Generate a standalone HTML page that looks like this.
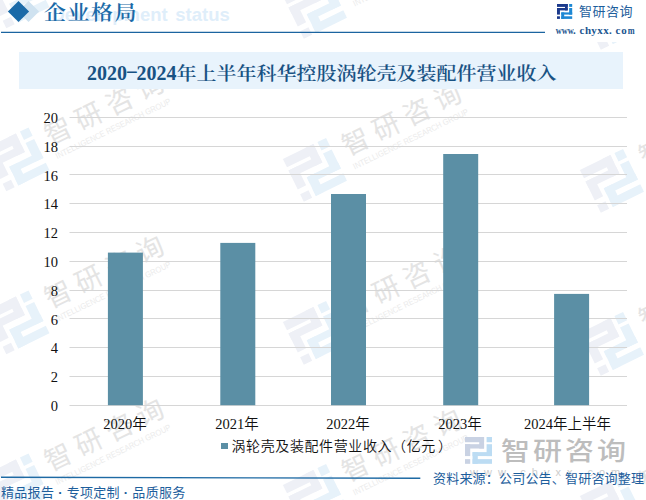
<!DOCTYPE html>
<html><head><meta charset="utf-8">
<style>
*{margin:0;padding:0;box-sizing:border-box}
html,body{width:646px;height:500px;overflow:hidden;background:#fff}
body{position:relative;font-family:"Liberation Sans","Noto Sans CJK SC",sans-serif;text-spacing-trim:space-all}
.a{position:absolute;white-space:nowrap}
svg.a{overflow:visible}
.dia{position:absolute;width:15px;height:15px;transform:rotate(45deg)}
.yl{position:absolute;left:20px;width:38px;text-align:right;font:14.5px "Liberation Serif","Noto Sans CJK SC",serif;color:#111;line-height:14px}
.xl{position:absolute;width:112px;text-align:center;font:350 14.5px "Liberation Serif","Noto Sans CJK SC",serif;color:#111;line-height:14px}
.m span{display:inline-block;width:6px;text-align:center}
.m span.w{transform:scaleX(0.75)}
.dash{display:inline-block;width:9.5px;text-align:center;font-weight:400;transform:translateY(-3px) scaleX(1.9)}
.p{display:inline-block;width:14.6px;text-align:left}
</style></head><body>

<svg class="a" style="left:0;top:0" width="646" height="500" viewBox="0 0 646 500">
<g transform="translate(17.5 -3.5) rotate(-26)"><g transform="translate(-24 -24) scale(3.2)"><g fill="#eef0f6"><rect x="0" y="0" width="10.6" height="2.9"/><rect x="7.9" y="0" width="2.7" height="6.4"/><rect x="0" y="4" width="10.6" height="2.4"/><rect x="0" y="4" width="2.9" height="6.6"/><rect x="0" y="12.3" width="2.9" height="2.6"/></g><g fill="#e7f2fa"><rect x="12" y="0" width="3" height="2.9"/><rect x="12" y="4" width="3" height="6.6"/><rect x="4.2" y="8.4" width="10.8" height="2.2"/><rect x="4.2" y="8.4" width="2.9" height="6.5"/><rect x="4.2" y="12.3" width="10.8" height="2.6"/></g></g><text x="35.5" y="2" font-size="27" font-weight="400" fill="#e4e4e4" letter-spacing="7" font-family="Liberation Sans, Noto Sans CJK SC, sans-serif">智研咨询</text><text x="36" y="17" font-size="8.5" fill="#ebebeb" textLength="127" lengthAdjust="spacingAndGlyphs" font-family="Liberation Sans, sans-serif">INTELLIGENCE RESEARCH GROUP</text></g>
<g transform="translate(17.5 159.5) rotate(-26)"><g transform="translate(-24 -24) scale(3.2)"><g fill="#eef0f6"><rect x="0" y="0" width="10.6" height="2.9"/><rect x="7.9" y="0" width="2.7" height="6.4"/><rect x="0" y="4" width="10.6" height="2.4"/><rect x="0" y="4" width="2.9" height="6.6"/><rect x="0" y="12.3" width="2.9" height="2.6"/></g><g fill="#e7f2fa"><rect x="12" y="0" width="3" height="2.9"/><rect x="12" y="4" width="3" height="6.6"/><rect x="4.2" y="8.4" width="10.8" height="2.2"/><rect x="4.2" y="8.4" width="2.9" height="6.5"/><rect x="4.2" y="12.3" width="10.8" height="2.6"/></g></g><text x="35.5" y="2" font-size="27" font-weight="400" fill="#e4e4e4" letter-spacing="7" font-family="Liberation Sans, Noto Sans CJK SC, sans-serif">智研咨询</text><text x="36" y="17" font-size="8.5" fill="#ebebeb" textLength="127" lengthAdjust="spacingAndGlyphs" font-family="Liberation Sans, sans-serif">INTELLIGENCE RESEARCH GROUP</text></g>
<g transform="translate(17.5 322.5) rotate(-26)"><g transform="translate(-24 -24) scale(3.2)"><g fill="#eef0f6"><rect x="0" y="0" width="10.6" height="2.9"/><rect x="7.9" y="0" width="2.7" height="6.4"/><rect x="0" y="4" width="10.6" height="2.4"/><rect x="0" y="4" width="2.9" height="6.6"/><rect x="0" y="12.3" width="2.9" height="2.6"/></g><g fill="#e7f2fa"><rect x="12" y="0" width="3" height="2.9"/><rect x="12" y="4" width="3" height="6.6"/><rect x="4.2" y="8.4" width="10.8" height="2.2"/><rect x="4.2" y="8.4" width="2.9" height="6.5"/><rect x="4.2" y="12.3" width="10.8" height="2.6"/></g></g><text x="35.5" y="2" font-size="27" font-weight="400" fill="#e4e4e4" letter-spacing="7" font-family="Liberation Sans, Noto Sans CJK SC, sans-serif">智研咨询</text><text x="36" y="17" font-size="8.5" fill="#ebebeb" textLength="127" lengthAdjust="spacingAndGlyphs" font-family="Liberation Sans, sans-serif">INTELLIGENCE RESEARCH GROUP</text></g>
<g transform="translate(17.5 485.5) rotate(-26)"><g transform="translate(-24 -24) scale(3.2)"><g fill="#eef0f6"><rect x="0" y="0" width="10.6" height="2.9"/><rect x="7.9" y="0" width="2.7" height="6.4"/><rect x="0" y="4" width="10.6" height="2.4"/><rect x="0" y="4" width="2.9" height="6.6"/><rect x="0" y="12.3" width="2.9" height="2.6"/></g><g fill="#e7f2fa"><rect x="12" y="0" width="3" height="2.9"/><rect x="12" y="4" width="3" height="6.6"/><rect x="4.2" y="8.4" width="10.8" height="2.2"/><rect x="4.2" y="8.4" width="2.9" height="6.5"/><rect x="4.2" y="12.3" width="10.8" height="2.6"/></g></g><text x="35.5" y="2" font-size="27" font-weight="400" fill="#e4e4e4" letter-spacing="7" font-family="Liberation Sans, Noto Sans CJK SC, sans-serif">智研咨询</text><text x="36" y="17" font-size="8.5" fill="#ebebeb" textLength="127" lengthAdjust="spacingAndGlyphs" font-family="Liberation Sans, sans-serif">INTELLIGENCE RESEARCH GROUP</text></g>
<g transform="translate(315 7) rotate(-26)"><g transform="translate(-24 -24) scale(3.2)"><g fill="#eef0f6"><rect x="0" y="0" width="10.6" height="2.9"/><rect x="7.9" y="0" width="2.7" height="6.4"/><rect x="0" y="4" width="10.6" height="2.4"/><rect x="0" y="4" width="2.9" height="6.6"/><rect x="0" y="12.3" width="2.9" height="2.6"/></g><g fill="#e7f2fa"><rect x="12" y="0" width="3" height="2.9"/><rect x="12" y="4" width="3" height="6.6"/><rect x="4.2" y="8.4" width="10.8" height="2.2"/><rect x="4.2" y="8.4" width="2.9" height="6.5"/><rect x="4.2" y="12.3" width="10.8" height="2.6"/></g></g><text x="35.5" y="2" font-size="27" font-weight="400" fill="#e4e4e4" letter-spacing="7" font-family="Liberation Sans, Noto Sans CJK SC, sans-serif">智研咨询</text><text x="36" y="17" font-size="8.5" fill="#ebebeb" textLength="127" lengthAdjust="spacingAndGlyphs" font-family="Liberation Sans, sans-serif">INTELLIGENCE RESEARCH GROUP</text></g>
<g transform="translate(315 170) rotate(-26)"><g transform="translate(-24 -24) scale(3.2)"><g fill="#eef0f6"><rect x="0" y="0" width="10.6" height="2.9"/><rect x="7.9" y="0" width="2.7" height="6.4"/><rect x="0" y="4" width="10.6" height="2.4"/><rect x="0" y="4" width="2.9" height="6.6"/><rect x="0" y="12.3" width="2.9" height="2.6"/></g><g fill="#e7f2fa"><rect x="12" y="0" width="3" height="2.9"/><rect x="12" y="4" width="3" height="6.6"/><rect x="4.2" y="8.4" width="10.8" height="2.2"/><rect x="4.2" y="8.4" width="2.9" height="6.5"/><rect x="4.2" y="12.3" width="10.8" height="2.6"/></g></g><text x="35.5" y="2" font-size="27" font-weight="400" fill="#e4e4e4" letter-spacing="7" font-family="Liberation Sans, Noto Sans CJK SC, sans-serif">智研咨询</text><text x="36" y="17" font-size="8.5" fill="#ebebeb" textLength="127" lengthAdjust="spacingAndGlyphs" font-family="Liberation Sans, sans-serif">INTELLIGENCE RESEARCH GROUP</text></g>
<g transform="translate(315 333) rotate(-26)"><g transform="translate(-24 -24) scale(3.2)"><g fill="#eef0f6"><rect x="0" y="0" width="10.6" height="2.9"/><rect x="7.9" y="0" width="2.7" height="6.4"/><rect x="0" y="4" width="10.6" height="2.4"/><rect x="0" y="4" width="2.9" height="6.6"/><rect x="0" y="12.3" width="2.9" height="2.6"/></g><g fill="#e7f2fa"><rect x="12" y="0" width="3" height="2.9"/><rect x="12" y="4" width="3" height="6.6"/><rect x="4.2" y="8.4" width="10.8" height="2.2"/><rect x="4.2" y="8.4" width="2.9" height="6.5"/><rect x="4.2" y="12.3" width="10.8" height="2.6"/></g></g><text x="35.5" y="2" font-size="27" font-weight="400" fill="#e4e4e4" letter-spacing="7" font-family="Liberation Sans, Noto Sans CJK SC, sans-serif">智研咨询</text><text x="36" y="17" font-size="8.5" fill="#ebebeb" textLength="127" lengthAdjust="spacingAndGlyphs" font-family="Liberation Sans, sans-serif">INTELLIGENCE RESEARCH GROUP</text></g>
<g transform="translate(315 496) rotate(-26)"><g transform="translate(-24 -24) scale(3.2)"><g fill="#eef0f6"><rect x="0" y="0" width="10.6" height="2.9"/><rect x="7.9" y="0" width="2.7" height="6.4"/><rect x="0" y="4" width="10.6" height="2.4"/><rect x="0" y="4" width="2.9" height="6.6"/><rect x="0" y="12.3" width="2.9" height="2.6"/></g><g fill="#e7f2fa"><rect x="12" y="0" width="3" height="2.9"/><rect x="12" y="4" width="3" height="6.6"/><rect x="4.2" y="8.4" width="10.8" height="2.2"/><rect x="4.2" y="8.4" width="2.9" height="6.5"/><rect x="4.2" y="12.3" width="10.8" height="2.6"/></g></g><text x="35.5" y="2" font-size="27" font-weight="400" fill="#e4e4e4" letter-spacing="7" font-family="Liberation Sans, Noto Sans CJK SC, sans-serif">智研咨询</text><text x="36" y="17" font-size="8.5" fill="#ebebeb" textLength="127" lengthAdjust="spacingAndGlyphs" font-family="Liberation Sans, sans-serif">INTELLIGENCE RESEARCH GROUP</text></g>
<g transform="translate(612 18) rotate(-26)"><g transform="translate(-24 -24) scale(3.2)"><g fill="#eef0f6"><rect x="0" y="0" width="10.6" height="2.9"/><rect x="7.9" y="0" width="2.7" height="6.4"/><rect x="0" y="4" width="10.6" height="2.4"/><rect x="0" y="4" width="2.9" height="6.6"/><rect x="0" y="12.3" width="2.9" height="2.6"/></g><g fill="#e7f2fa"><rect x="12" y="0" width="3" height="2.9"/><rect x="12" y="4" width="3" height="6.6"/><rect x="4.2" y="8.4" width="10.8" height="2.2"/><rect x="4.2" y="8.4" width="2.9" height="6.5"/><rect x="4.2" y="12.3" width="10.8" height="2.6"/></g></g><text x="35.5" y="2" font-size="27" font-weight="400" fill="#e4e4e4" letter-spacing="7" font-family="Liberation Sans, Noto Sans CJK SC, sans-serif">智研咨询</text><text x="36" y="17" font-size="8.5" fill="#ebebeb" textLength="127" lengthAdjust="spacingAndGlyphs" font-family="Liberation Sans, sans-serif">INTELLIGENCE RESEARCH GROUP</text></g>
<g transform="translate(612 181) rotate(-26)"><g transform="translate(-24 -24) scale(3.2)"><g fill="#eef0f6"><rect x="0" y="0" width="10.6" height="2.9"/><rect x="7.9" y="0" width="2.7" height="6.4"/><rect x="0" y="4" width="10.6" height="2.4"/><rect x="0" y="4" width="2.9" height="6.6"/><rect x="0" y="12.3" width="2.9" height="2.6"/></g><g fill="#e7f2fa"><rect x="12" y="0" width="3" height="2.9"/><rect x="12" y="4" width="3" height="6.6"/><rect x="4.2" y="8.4" width="10.8" height="2.2"/><rect x="4.2" y="8.4" width="2.9" height="6.5"/><rect x="4.2" y="12.3" width="10.8" height="2.6"/></g></g><text x="35.5" y="2" font-size="27" font-weight="400" fill="#e4e4e4" letter-spacing="7" font-family="Liberation Sans, Noto Sans CJK SC, sans-serif">智研咨询</text><text x="36" y="17" font-size="8.5" fill="#ebebeb" textLength="127" lengthAdjust="spacingAndGlyphs" font-family="Liberation Sans, sans-serif">INTELLIGENCE RESEARCH GROUP</text></g>
<g transform="translate(612 344) rotate(-26)"><g transform="translate(-24 -24) scale(3.2)"><g fill="#eef0f6"><rect x="0" y="0" width="10.6" height="2.9"/><rect x="7.9" y="0" width="2.7" height="6.4"/><rect x="0" y="4" width="10.6" height="2.4"/><rect x="0" y="4" width="2.9" height="6.6"/><rect x="0" y="12.3" width="2.9" height="2.6"/></g><g fill="#e7f2fa"><rect x="12" y="0" width="3" height="2.9"/><rect x="12" y="4" width="3" height="6.6"/><rect x="4.2" y="8.4" width="10.8" height="2.2"/><rect x="4.2" y="8.4" width="2.9" height="6.5"/><rect x="4.2" y="12.3" width="10.8" height="2.6"/></g></g><text x="35.5" y="2" font-size="27" font-weight="400" fill="#e4e4e4" letter-spacing="7" font-family="Liberation Sans, Noto Sans CJK SC, sans-serif">智研咨询</text><text x="36" y="17" font-size="8.5" fill="#ebebeb" textLength="127" lengthAdjust="spacingAndGlyphs" font-family="Liberation Sans, sans-serif">INTELLIGENCE RESEARCH GROUP</text></g>
<g transform="translate(612 507) rotate(-26)"><g transform="translate(-24 -24) scale(3.2)"><g fill="#eef0f6"><rect x="0" y="0" width="10.6" height="2.9"/><rect x="7.9" y="0" width="2.7" height="6.4"/><rect x="0" y="4" width="10.6" height="2.4"/><rect x="0" y="4" width="2.9" height="6.6"/><rect x="0" y="12.3" width="2.9" height="2.6"/></g><g fill="#e7f2fa"><rect x="12" y="0" width="3" height="2.9"/><rect x="12" y="4" width="3" height="6.6"/><rect x="4.2" y="8.4" width="10.8" height="2.2"/><rect x="4.2" y="8.4" width="2.9" height="6.5"/><rect x="4.2" y="12.3" width="10.8" height="2.6"/></g></g><text x="35.5" y="2" font-size="27" font-weight="400" fill="#e4e4e4" letter-spacing="7" font-family="Liberation Sans, Noto Sans CJK SC, sans-serif">智研咨询</text><text x="36" y="17" font-size="8.5" fill="#ebebeb" textLength="127" lengthAdjust="spacingAndGlyphs" font-family="Liberation Sans, sans-serif">INTELLIGENCE RESEARCH GROUP</text></g>
</svg>

<!-- header -->
<div class="a" style="left:550px;top:0;width:96px;height:41.5px;background:#fff"></div>
<div class="dia" style="left:21px;top:4px;background:#cfe2f0"></div>
<div class="dia" style="left:11px;top:4px;background:#1a6aa8"></div>
<div class="a" style="left:51.5px;top:6.1px;font:bold 18.5px 'Liberation Sans',sans-serif;color:#dfeefa;line-height:18.5px;word-spacing:2.5px">Development status</div>
<div class="a" style="left:44px;top:-5px;font:600 22px 'Liberation Serif','Noto Serif CJK SC',serif;color:#1a6aa8;letter-spacing:1.5px;transform:scaleY(0.94);transform-origin:50% 55%">企业格局</div>
<svg class="a" style="left:0;top:25px" width="550" height="15"><line x1="1" y1="7.4" x2="545" y2="7.4" stroke="#1b64a0" stroke-width="1.4"/></svg>

<svg class="a" style="left:557px;top:4px" width="15.2" height="15" viewBox="0 0 15 15" preserveAspectRatio="none">
<g transform="translate(0 0) scale(1)"><g fill="#1b3a8c"><rect x="0" y="0" width="10.6" height="2.9"/><rect x="7.9" y="0" width="2.7" height="6.4"/><rect x="0" y="4" width="10.6" height="2.4"/><rect x="0" y="4" width="2.9" height="6.6"/><rect x="0" y="12.3" width="2.9" height="2.6"/></g><g fill="#1e88d4"><rect x="12" y="0" width="3" height="2.9"/><rect x="12" y="4" width="3" height="6.6"/><rect x="4.2" y="8.4" width="10.8" height="2.2"/><rect x="4.2" y="8.4" width="2.9" height="6.5"/><rect x="4.2" y="12.3" width="10.8" height="2.6"/></g></g>
</svg>
<div class="a" style="left:579px;top:1px;font:13px 'Liberation Sans','Noto Sans CJK SC',sans-serif;color:#1d5e9c;letter-spacing:0.5px">智研咨询</div>
<div class="a m" style="left:555px;top:24px;font:bold 11px 'Liberation Serif',serif;color:#1b5590"><span class="w">w</span><span class="w">w</span><span class="w">w</span><span style="text-align:left">.</span><span>c</span><span>h</span><span>y</span><span>x</span><span>x</span><span style="text-align:left">.</span><span>c</span><span>o</span><span class="w">m</span></div>

<!-- title bar -->
<div class="a" style="left:19px;top:52px;width:604px;height:37px;background:#e8f3fc"></div>
<div class="a" style="left:87px;top:63px;font:bold 20px 'Liberation Serif','Noto Serif CJK SC',serif;color:#185283;line-height:22px"><span style="position:relative;top:-1px">2020<span class="dash">-</span>2024</span><span style="display:inline-block;font-weight:600;transform:scaleY(0.9);transform-origin:50% 55%">年上半年科华控股涡轮壳及装配件营业收入</span></div>

<!-- chart -->
<svg class="a" style="left:0;top:0" width="646" height="500" viewBox="0 0 646 500">
<g stroke="#d6d6d6" stroke-width="1"><line x1="69.5" x2="627" y1="117.5" y2="117.5"/><line x1="69.5" x2="627" y1="146.5" y2="146.5"/><line x1="69.5" x2="627" y1="174.5" y2="174.5"/><line x1="69.5" x2="627" y1="203.5" y2="203.5"/><line x1="69.5" x2="627" y1="232.5" y2="232.5"/><line x1="69.5" x2="627" y1="261.5" y2="261.5"/><line x1="69.5" x2="627" y1="290.5" y2="290.5"/><line x1="69.5" x2="627" y1="318.5" y2="318.5"/><line x1="69.5" x2="627" y1="347.5" y2="347.5"/><line x1="69.5" x2="627" y1="376.5" y2="376.5"/><line x1="69.5" x2="627" y1="405.5" y2="405.5"/></g>
<g fill="#5b8fa5"><rect x="107.9" y="252.6" width="35" height="152.60"/><rect x="220.3" y="242.9" width="35" height="162.30"/><rect x="331" y="194" width="35" height="211.20"/><rect x="443.2" y="154" width="35" height="251.20"/><rect x="554.1" y="293.9" width="35" height="111.30"/></g>
</svg>

<div class="yl" style="top:111.2px">20</div>
<div class="yl" style="top:140.2px">18</div>
<div class="yl" style="top:169.2px">16</div>
<div class="yl" style="top:197.2px">14</div>
<div class="yl" style="top:226.2px">12</div>
<div class="yl" style="top:255.2px">10</div>
<div class="yl" style="top:284.2px">8</div>
<div class="yl" style="top:313.2px">6</div>
<div class="yl" style="top:341.2px">4</div>
<div class="yl" style="top:370.2px">2</div>
<div class="yl" style="top:399.2px">0</div>

<div class="xl" style="left:69px;top:416.8px">2020年</div>
<div class="xl" style="left:181px;top:416.8px">2021年</div>
<div class="xl" style="left:292px;top:416.8px">2022年</div>
<div class="xl" style="left:404px;top:416.8px">2023年</div>
<div class="xl" style="left:511.5px;top:416.8px">2024年上半年</div>

<div class="a" style="left:221px;top:442.6px;width:6.6px;height:6.6px;background:#5b8fa5"></div>
<div class="a" style="left:231.5px;top:438px;font:350 14px 'Liberation Sans','Noto Sans CJK SC',sans-serif;color:#111;line-height:16px;letter-spacing:0.6px">涡轮壳及装配件营业收入<span class="p">（</span>亿元<span class="p" style="padding-left:2px">）</span></div>

<!-- bottom logo -->
<svg class="a" style="left:465px;top:437px" width="27" height="27" viewBox="0 0 15 15">
<g transform="translate(0 0) scale(1)"><g fill="#c9d2e3"><rect x="0" y="0" width="10.6" height="2.9"/><rect x="7.9" y="0" width="2.7" height="6.4"/><rect x="0" y="4" width="10.6" height="2.4"/><rect x="0" y="4" width="2.9" height="6.6"/><rect x="0" y="12.3" width="2.9" height="2.6"/></g><g fill="#bcdcf3"><rect x="12" y="0" width="3" height="2.9"/><rect x="12" y="4" width="3" height="6.6"/><rect x="4.2" y="8.4" width="10.8" height="2.2"/><rect x="4.2" y="8.4" width="2.9" height="6.5"/><rect x="4.2" y="12.3" width="10.8" height="2.6"/></g></g>
</svg>
<div class="a" style="left:501px;top:430px;font:500 29px 'Liberation Sans','Noto Sans CJK SC',sans-serif;color:#bdbdbd;letter-spacing:3px;line-height:40px;transform:scaleY(0.86);transform-origin:0 31px">智研咨询</div>
<div class="a" style="left:470px;top:466px;font:11px 'Liberation Sans',sans-serif;color:#cdcdcd;letter-spacing:6px">www.chyxx.com</div>

<!-- footer -->
<svg class="a" style="left:0;top:470px" width="430" height="15"><line x1="1" y1="7.2" x2="420.3" y2="8.3" stroke="#1e6aa4" stroke-width="1.4"/></svg>
<div class="a" style="left:1px;top:484.7px;font:13px 'Liberation Sans','Noto Sans CJK SC',sans-serif;color:#1d5e9c;line-height:16px;letter-spacing:0.3px">精品报告 <b>·</b> 专项定制 <b>·</b> 品质服务</div>
<div class="a" style="left:433px;top:470.5px;font:13px 'Liberation Sans','Noto Sans CJK SC',sans-serif;color:#1d5e9c;line-height:16px;letter-spacing:0.2px">资料来源：公司公告、智研咨询整理</div>

</body></html>
